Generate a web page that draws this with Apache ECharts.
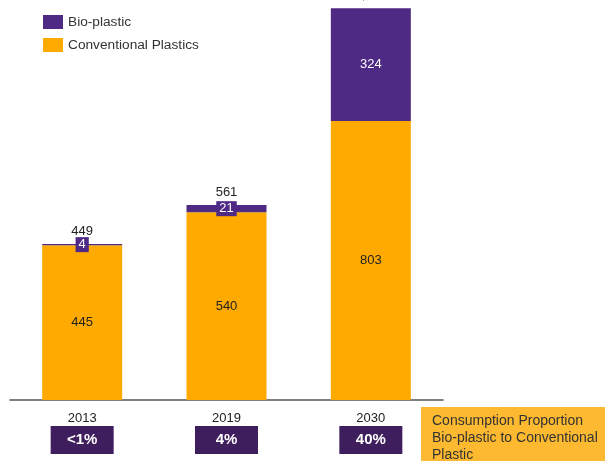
<!DOCTYPE html>
<html>
<head>
<meta charset="utf-8">
<script src="https://cdn.jsdelivr.net/npm/echarts@6/dist/echarts.min.js"></script>
<style>html,body{margin:0;padding:0;background:#fff}#c{width:605px;height:461px}</style>
</head>
<body>
<div id="c"></div>
<script>
const years = ['2013', '2019', '2030'];
const conventional = [445, 540, 803];
const bio = [4, 21, 324];
const totals = [449, 561, 1127];
const shares = ['<1%', '4%', '40%'];
const noteLines = ['Consumption Proportion', 'Bio-plastic to Conventional', 'Plastic'];

const FONT = '"Liberation Sans", Arial, sans-serif';
const ORANGE = '#FFAA00';
const PURPLE = '#4E2A84';
const DARK = '#3F1E5E';

function fmt(v) { return String(v).replace(/\B(?=(\d{3})+(?!\d))/g, ','); }

const chart = echarts.init(document.getElementById('c'));
chart.setOption({
  animation: false,
  textStyle: { fontFamily: FONT },
  legend: {
    data: ['Bio-plastic', 'Conventional Plastics'],
    orient: 'vertical', left: 38, top: 10,
    itemWidth: 20, itemHeight: 14, itemGap: 9,
    icon: 'rect',
    textStyle: { fontSize: 13.7, color: '#333', fontFamily: FONT }
  },
  grid: { left: 10, right: 162, top: 0, bottom: 61 },
  xAxis: {
    type: 'category', data: years,
    axisLine: { lineStyle: { color: '#555', width: 1.5 } },
    axisTick: { show: false },
    axisLabel: {
      margin: 10,
      formatter: function (v, i) { return '{yr|' + v + '}\n{box|' + shares[i] + '}'; },
      rich: {
        yr: { fontSize: 13, color: '#222', lineHeight: 16, fontFamily: FONT },
        box: { fontSize: 15, fontWeight: 'bold', color: '#fff', backgroundColor: DARK,
               width: 63, height: 28, lineHeight: 28, align: 'center', fontFamily: FONT }
      }
    }
  },
  yAxis: { type: 'value', min: 0, max: 1151, show: false, splitLine: { show: false } },
  series: [
    {
      name: 'Conventional Plastics', type: 'bar', stack: 'a', barWidth: 80,
      data: conventional, itemStyle: { color: ORANGE },
      label: { show: true, position: 'inside', color: '#222', fontSize: 13, fontFamily: FONT }
    },
    {
      name: 'Bio-plastic', type: 'bar', stack: 'a', barWidth: 80,
      data: bio, itemStyle: { color: PURPLE },
      label: {
        show: true, position: 'inside', color: '#fff', fontSize: 13, fontFamily: FONT,
        backgroundColor: PURPLE, padding: [1, 3]
      }
    },
    {
      name: 'Total', type: 'bar', barWidth: 80, barGap: '-100%', z: 1, silent: true,
      data: totals, itemStyle: { color: 'transparent' },
      label: { show: true, position: 'top', distance: 6, color: '#222', fontSize: 13, fontFamily: FONT,
               formatter: function (p) { return fmt(p.value); } }
    }
  ],
  graphic: [
    { type: 'rect', left: 421, top: 407, shape: { width: 184, height: 54 }, style: { fill: '#FDB92F' } },
    { type: 'text', left: 432, top: 413, style: { text: noteLines.join('\n'), fontSize: 14, lineHeight: 17, fill: '#333', fontFamily: FONT } }
  ]
});
</script>
</body>
</html>
